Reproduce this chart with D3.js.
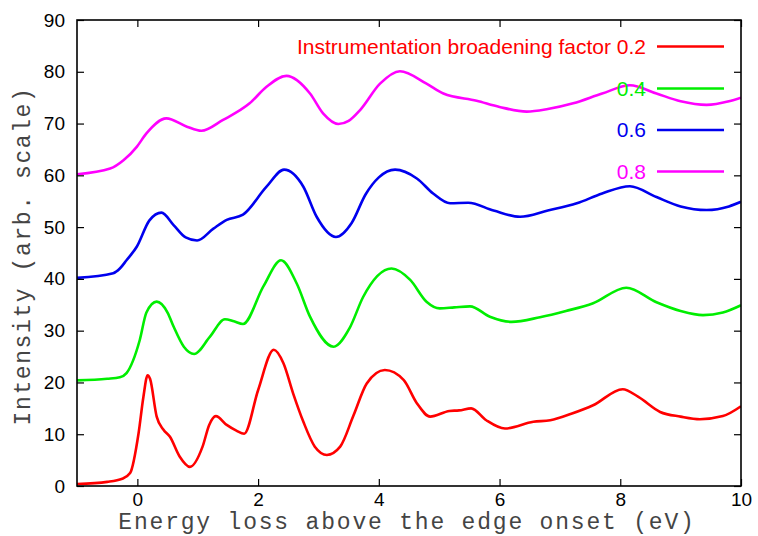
<!DOCTYPE html>
<html><head><meta charset="utf-8">
<script src="https://cdn.jsdelivr.net/npm/d3@7"></script>
<style>
body{margin:0;background:#fff;}
svg{display:block;}
</style></head>
<body>
<svg id="c" width="758" height="536"></svg>
<script>
// ---- data ----
const xTicks = [0, 2, 4, 6, 8, 10];
const yTicks = [0, 10, 20, 30, 40, 50, 60, 70, 80, 90];
const seriesNames = ["Instrumentation broadening factor 0.2", "0.4", "0.6", "0.8"];
const seriesColors = ["#ff0000", "#00ee00", "#0000ee", "#ff00ff"];

const redX = [-1,-0.5,-0.25,-0.12,0.02,0.10,0.17,0.21,0.32,0.43,0.54,0.70,0.87,1.08,1.19,1.30,1.48,1.64,1.77,2.0,2.26,2.42,2.58,2.75,2.94,3.14,3.36,3.58,3.80,4.10,4.41,4.63,4.85,5.17,5.33,5.53,5.78,6.09,6.56,6.84,7.20,7.55,8.04,8.30,8.66,9.0,9.32,9.7,10];
const redY = [0.4,0.8,1.4,2.5,10.2,17.2,21.4,20.7,13.4,10.9,9.5,5.7,3.7,7.6,11.8,13.5,11.8,10.7,10.1,18.5,26.3,23.7,17.9,12.4,7.6,6.0,7.6,13.6,19.8,22.4,20.5,16.0,13.4,14.5,14.6,15.0,12.7,11.1,12.4,12.7,14.0,15.6,18.7,17.2,14.3,13.4,12.9,13.5,15.4];

const greenX = [-1,-0.5,-0.29,-0.18,0.04,0.15,0.32,0.5,0.6,0.77,0.94,1.2,1.45,1.6,1.75,2.09,2.38,2.64,2.86,3.25,3.52,3.74,4.21,4.52,4.79,5.01,5.25,5.51,5.84,6.2,6.67,7.1,7.55,8.1,8.6,9.0,9.37,9.7,10];
const greenY = [20.4,20.7,21.0,21.8,28.2,33.5,35.6,33.5,30.8,26.9,25.5,28.8,32.2,31.8,31.3,38.6,43.6,39.1,32.7,26.9,30.6,36.5,42.0,39.8,35.6,34.3,34.5,34.7,32.7,31.7,32.6,33.8,35.3,38.3,35.5,33.8,33.0,33.5,34.9];

const blueX = [-1,-0.4,-0.29,-0.18,-0.01,0.2,0.4,0.6,0.8,0.99,1.26,1.48,1.75,2.14,2.43,2.75,2.97,3.29,3.55,3.78,4.0,4.27,4.63,4.90,5.18,5.48,5.9,6.34,6.8,7.28,7.7,8.16,8.6,9.0,9.43,9.8,10];
const blueY = [40.2,41.1,42.0,43.6,46.2,51.3,52.8,50.4,48.0,47.4,49.7,51.4,52.4,57.8,61.1,57.8,52.0,48.1,50.8,56.3,59.6,61.1,59.4,56.5,54.6,54.7,53.2,52.0,53.2,54.6,56.5,57.9,55.8,54.0,53.3,54.0,54.9];

const magentaX = [-1,-0.45,-0.23,-0.01,0.15,0.48,0.82,1.06,1.42,1.86,2.14,2.47,2.86,3.08,3.33,3.50,3.69,4.02,4.35,4.79,5.07,5.62,6.0,6.45,6.8,7.22,7.7,8.16,8.6,9.0,9.43,9.8,10];
const magentaY = [60.2,61.3,62.9,65.5,68.1,71.0,69.4,68.6,70.7,73.9,77.1,79.2,75.8,71.9,69.9,70.5,72.6,77.7,80.1,77.7,75.8,74.4,73.2,72.3,72.8,73.9,75.8,77.4,75.8,74.3,73.6,74.3,75.0];

const allX = [redX, greenX, blueX, magentaX];
const allY = [redY, greenY, blueY, magentaY];

// ---- layout ----
const L = 77, R = 741, T = 20, B = 486;
const svg = d3.select("#c");
const x = d3.scaleLinear().domain([-1, 10]).range([L, R]);
const y = d3.scaleLinear().domain([0, 90]).range([B, T]);

svg.append("clipPath").attr("id","clp").append("rect")
  .attr("x", L).attr("y", T).attr("width", R-L).attr("height", B-T);

// curves
const line = d3.line().x(d => x(d[0])).y(d => y(d[1])).curve(d3.curveMonotoneX);
allX.forEach((xs, i) => {
  const pts = xs.map((v, j) => [v, allY[i][j]]);
  svg.append("path").datum(pts)
    .attr("d", line)
    .attr("fill", "none")
    .attr("stroke", seriesColors[i])
    .attr("stroke-width", 2.6)
    .attr("stroke-linejoin", "round")
    .attr("clip-path", "url(#clp)");
});

// frame
svg.append("rect").attr("x", L).attr("y", T).attr("width", R-L).attr("height", B-T)
  .attr("fill", "none").attr("stroke", "#000").attr("stroke-width", 1.6);

const tickFont = "'Liberation Sans', Arial, sans-serif";
// axes with inward ticks
const xAxis = d3.axisBottom(x).tickValues(xTicks).tickSizeInner(-7).tickSizeOuter(0).tickPadding(7);
const gx = svg.append("g").attr("transform", `translate(0,${B})`).call(xAxis);
const xTop = d3.axisTop(x).tickValues(xTicks).tickSizeInner(-7).tickSizeOuter(0).tickFormat("");
const gxt = svg.append("g").attr("transform", `translate(0,${T})`).call(xTop);
const yAxis = d3.axisLeft(y).tickValues(yTicks).tickSizeInner(-7).tickSizeOuter(0).tickPadding(12);
const gy = svg.append("g").attr("transform", `translate(${L},0)`).call(yAxis);
const yRight = d3.axisRight(y).tickValues(yTicks).tickSizeInner(-7).tickSizeOuter(0).tickFormat("");
const gyr = svg.append("g").attr("transform", `translate(${R},0)`).call(yRight);
[gx, gxt, gy, gyr].forEach(g => {
  g.select(".domain").remove();
  g.selectAll(".tick line").attr("stroke", "#000").attr("stroke-width", 1.2);
  g.selectAll("text").attr("font-family", tickFont).attr("font-size", 19).attr("fill", "#000");
});

// axis titles
const monoFont = "'Liberation Mono', 'Courier New', monospace";
svg.append("text").attr("x", (L+R)/2 - 2).attr("y", 529)
  .attr("text-anchor", "middle").attr("font-family", monoFont).attr("font-size", 23)
  .attr("letter-spacing", 1.8)
  .attr("fill", "#444").text("Energy loss above the edge onset (eV)");
svg.append("text").attr("transform", `translate(30,${(T+B)/2 + 3}) rotate(-90)`)
  .attr("text-anchor", "middle").attr("font-family", monoFont).attr("font-size", 23)
  .attr("letter-spacing", 1.6)
  .attr("fill", "#444").text("Intensity (arb. scale)");

// legend
const legRows = [46.5, 88.5, 130, 171.5];
seriesNames.forEach((name, i) => {
  svg.append("text").attr("x", 646).attr("y", legRows[i]).attr("dy", "0.35em")
    .attr("text-anchor", "end").attr("font-family", tickFont).attr("font-size", 21)
    .attr("fill", seriesColors[i]).text(name);
  svg.append("line").attr("x1", 657).attr("x2", 724)
    .attr("y1", legRows[i]).attr("y2", legRows[i])
    .attr("stroke", seriesColors[i]).attr("stroke-width", 2.6);
});
</script>
</body></html>
